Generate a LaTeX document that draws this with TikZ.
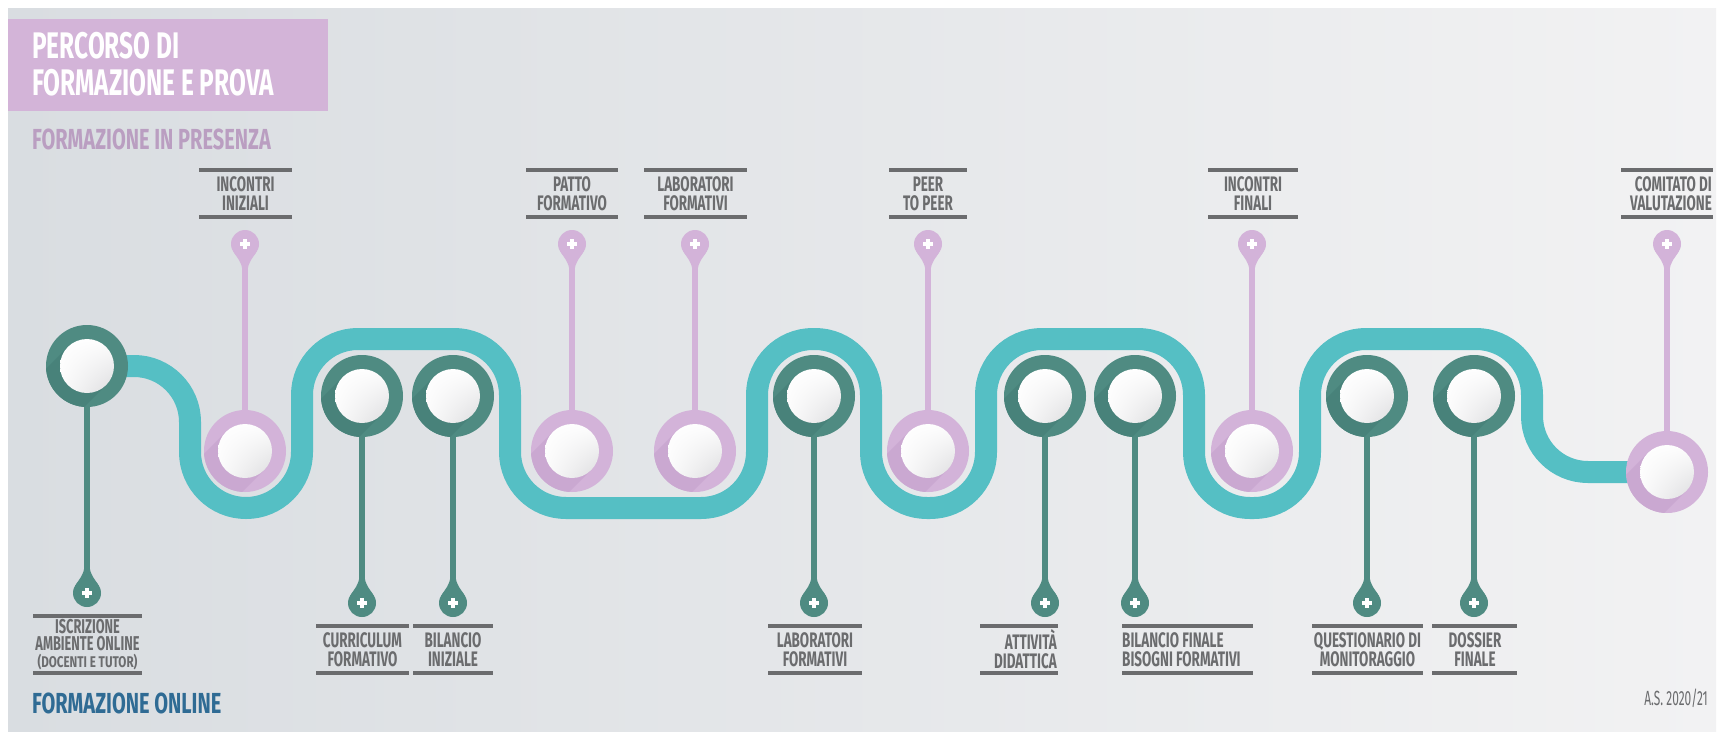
\documentclass[tikz,border=0pt]{standalone}
\usepackage{fontspec}
\usetikzlibrary{shadings}
\newfontfamily\condT[FakeStretch=0.66]{Fira Sans}
\newfontfamily\condL[FakeStretch=0.64]{Fira Sans}
\newfontfamily\condS[FakeStretch=0.69]{Fira Sans}
\newfontfamily\condY[FakeStretch=0.58]{Fira Sans}
\newfontfamily\condW[FakeStretch=0.75]{Fira Sans}
\definecolor{bgL}{HTML}{D9DDE1}
\definecolor{bgR}{HTML}{F2F2F3}
\definecolor{tealpath}{HTML}{55BFC4}
\definecolor{darkring}{HTML}{4F8B82}
\definecolor{darkshade}{HTML}{48827A}
\definecolor{purpring}{HTML}{D3B3D9}
\definecolor{purpshade}{HTML}{CAA8D1}
\definecolor{titlebox}{HTML}{D3B4D8}
\definecolor{labgray}{HTML}{6B6C6E}
\definecolor{presenza}{HTML}{BA9EC1}
\definecolor{online}{HTML}{2F6B94}
\definecolor{innerlow}{HTML}{DCDCDE}
\tikzset{
  ringnode/.style={circle, minimum size=82pt, inner sep=0pt},
  pinnode/.style={circle, minimum size=28pt, inner sep=0pt},
  stemline/.style={line width=5.5pt},
  plusmark/.style={white, line width=3.4pt},
  labrule/.style={labgray, line width=3.6pt},
  labtext/.style={font={\condL\bfseries\fontsize{21}{19}\selectfont}, text=labgray, inner sep=0pt},
  pathband/.style={tealpath, line width=22pt, rounded corners=56pt},
}
\newcommand\ringat[5]{%
  \node[ringnode, fill=#4] (#1) at (#2,#3) {};
  \begin{scope}
    \clip (#2,#3) circle[radius=41];
    \fill[#5, shift={(#2,#3)}] (19.1,19.1) -- (-19.1,-19.1) -- (-64.1,25.9) -- (-25.9,64.1) -- cycle;
  \end{scope}
  \shade[upper left=white, upper right=white!96!innerlow, lower left=white!90!innerlow, lower right=innerlow] (#2,#3) circle[radius=27];
}
\newcommand\pinat[5]{%
  \begin{scope}[shift={(#2,#3)}, yscale=#5]
    \fill[#4] (-2.75,-27) .. controls (-2.75,-18) and (-8,-14) .. (-12,-7) -- (12,-7) .. controls (8,-14) and (2.75,-18) .. (2.75,-27) -- cycle;
  \end{scope}
  \node[pinnode, fill=#4] (#1) at (#2,#3) {};
  \draw[plusmark] (#2-5,#3) -- (#2+5,#3) (#2,#3-5) -- (#2,#3+5);
}
\begin{document}
\begin{tikzpicture}[x=1pt, y=-1pt]
\useasboundingbox (0,0) rectangle (1723,731);
\fill[white] (0,0) rectangle (1723,731);
\shade[left color=bgL, right color=bgR] (8,8) rectangle (1716,731);

% title
\fill[titlebox] (8,19) rectangle (328,111);
\node[anchor=base west, inner sep=0pt, font={\condT\bfseries\fontsize{37}{33}\selectfont}, text=white] (t1) at (32,58) {PERCORSO DI};
\node[anchor=base west, inner sep=0pt, font={\condT\bfseries\fontsize{37}{33}\selectfont}, text=white] (t2) at (32,95) {FORMAZIONE E PROVA};
\node[anchor=base west, inner sep=0pt, font={\condS\bfseries\fontsize{29}{24}\selectfont}, text=presenza] (sec1) at (32,149) {FORMAZIONE IN PRESENZA};
\node[anchor=base west, inner sep=0pt, font={\condS\bfseries\fontsize{29}{24}\selectfont}, text=online] (sec2) at (32,713) {FORMAZIONE ONLINE};
\node[anchor=base east, inner sep=0pt, font={\condY\fontsize{20.5}{20}\selectfont}, text=labgray] (year) at (1708,705) {A.S. 2020/21};

% coordinates of the stops
\coordinate (c1) at (87,366);   \coordinate (q1) at (87,593);
\coordinate (c2) at (245,451);  \coordinate (q2) at (245,244);
\coordinate (c3) at (362,396);  \coordinate (q3) at (362,603);
\coordinate (c4) at (453,396);  \coordinate (q4) at (453,603);
\coordinate (c5) at (572,451);  \coordinate (q5) at (572,244);
\coordinate (c6) at (695,451);  \coordinate (q6) at (695,244);
\coordinate (c7) at (814,396);  \coordinate (q7) at (814,603);
\coordinate (c8) at (928,451);  \coordinate (q8) at (928,244);
\coordinate (c9) at (1045,396); \coordinate (q9) at (1045,603);
\coordinate (c10) at (1135,396); \coordinate (q10) at (1135,603);
\coordinate (c11) at (1252,451); \coordinate (q11) at (1252,244);
\coordinate (c12) at (1367,396); \coordinate (q12) at (1367,603);
\coordinate (c13) at (1474,396); \coordinate (q13) at (1474,603);
\coordinate (c14) at (1667,472); \coordinate (q14) at (1667,244);

% teal path
\draw[pathband] (c1) -- (190,366) -- (190,508) -- (302,508) -- (302,339) -- (510,339) -- (510,508) -- (757,508) -- (757,339) -- (871,339) -- (871,508) -- (986,508) -- (986,339) -- (1194,339) -- (1194,508) -- (1310,508) -- (1310,339) -- (1532,339) -- (1532,472) -- (c14);

% stems
\foreach \i in {1,3,4,7,9,10,12,13} {\draw[stemline, darkring] (c\i) -- (q\i);}
\foreach \i in {2,5,6,8,11,14} {\draw[stemline, purpring] (c\i) -- (q\i);}

% pins
\pinat{p1}{87}{593}{darkring}{1}
\pinat{p3}{362}{603}{darkring}{1}
\pinat{p4}{453}{603}{darkring}{1}
\pinat{p7}{814}{603}{darkring}{1}
\pinat{p9}{1045}{603}{darkring}{1}
\pinat{p10}{1135}{603}{darkring}{1}
\pinat{p12}{1367}{603}{darkring}{1}
\pinat{p13}{1474}{603}{darkring}{1}
\pinat{p2}{245}{244}{purpring}{-1}
\pinat{p5}{572}{244}{purpring}{-1}
\pinat{p6}{695}{244}{purpring}{-1}
\pinat{p8}{928}{244}{purpring}{-1}
\pinat{p11}{1252}{244}{purpring}{-1}
\pinat{p14}{1667}{244}{purpring}{-1}

% rings
\ringat{n1}{87}{366}{darkring}{darkshade}
\ringat{n3}{362}{396}{darkring}{darkshade}
\ringat{n4}{453}{396}{darkring}{darkshade}
\ringat{n7}{814}{396}{darkring}{darkshade}
\ringat{n9}{1045}{396}{darkring}{darkshade}
\ringat{n10}{1135}{396}{darkring}{darkshade}
\ringat{n12}{1367}{396}{darkring}{darkshade}
\ringat{n13}{1474}{396}{darkring}{darkshade}
\ringat{n2}{245}{451}{purpring}{purpshade}
\ringat{n5}{572}{451}{purpring}{purpshade}
\ringat{n6}{695}{451}{purpring}{purpshade}
\ringat{n8}{928}{451}{purpring}{purpshade}
\ringat{n11}{1252}{451}{purpring}{purpshade}
\ringat{n14}{1667}{472}{purpring}{purpshade}

% top labels
\foreach \a/\b in {199/292, 526/618, 644/747, 889/967, 1208/1298, 1621/1713} {
  \draw[labrule] (\a,170) -- (\b,170);
  \draw[labrule] (\a,217) -- (\b,217);
}
\node[labtext, align=center] (l2) at (245.5,193.5) {INCONTRI\\INIZIALI};
\node[labtext, align=center] (l5) at (572,193.5) {PATTO\\FORMATIVO};
\node[labtext, align=center] (l6) at (695.5,193.5) {LABORATORI\\FORMATIVI};
\node[labtext, align=center] (l8) at (928,193.5) {PEER\\TO PEER};
\node[labtext, align=center] (l11) at (1253,193.5) {INCONTRI\\FINALI};
\node[labtext, align=right, anchor=east] (l14) at (1712,193.5) {COMITATO DI\\VALUTAZIONE};

% bottom labels
\draw[labrule] (33,616) -- (142,616);
\draw[labrule] (33,673) -- (142,673);
\node[labtext, align=center, font={\condL\bfseries\fontsize{20}{17}\selectfont}] (l1) at (87.5,644.5) {ISCRIZIONE\\AMBIENTE ONLINE\\{\condW\bfseries\fontsize{15.5}{15}\selectfont (DOCENTI E TUTOR)}};
\foreach \a/\b in {316/409, 413/493, 768/862, 980/1058, 1122/1253, 1312/1423, 1432/1517} {
  \draw[labrule] (\a,626) -- (\b,626);
  \draw[labrule] (\a,673) -- (\b,673);
}
\node[labtext, align=center] (l3) at (362.5,649.5) {CURRICULUM\\FORMATIVO};
\node[labtext, align=center] (l4) at (453,649.5) {BILANCIO\\INIZIALE};
\node[labtext, align=center] (l7) at (815,649.5) {LABORATORI\\FORMATIVI};
\node[labtext, align=right, anchor=east] (l9) at (1057,649.5) {ATTIVITÀ\\DIDATTICA};
\node[labtext, align=left, anchor=west] (l10) at (1122,649.5) {BILANCIO FINALE\\BISOGNI FORMATIVI};
\node[labtext, align=center] (l12) at (1367.5,649.5) {QUESTIONARIO DI\\MONITORAGGIO};
\node[labtext, align=center] (l13) at (1475,649.5) {DOSSIER\\FINALE};
\end{tikzpicture}
\end{document}
